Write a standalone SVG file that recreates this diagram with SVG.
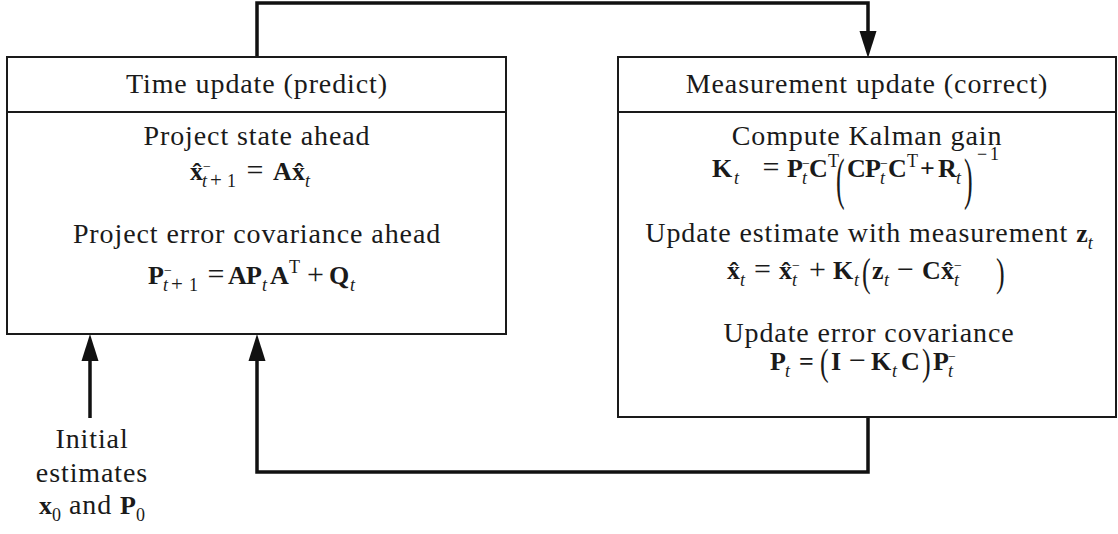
<svg xmlns="http://www.w3.org/2000/svg" width="1118" height="534" viewBox="0 0 1118 534">
<style>
.box{fill:#fff;stroke:#1a1a1a;stroke-width:2}
.div{stroke:#1a1a1a;stroke-width:2}
.tx{font-family:"Liberation Serif","Times New Roman",serif;font-size:28px;letter-spacing:0.9px;fill:#1a1a1a;text-anchor:middle}
.m{font-family:"Liberation Serif","Times New Roman",serif;font-size:26px;font-weight:bold;fill:#1a1a1a}
.sb{font-size:18px;font-style:italic;font-weight:normal}
.sr{font-size:18px;font-weight:normal;font-style:normal}
.sm{font-size:14px;font-weight:normal;font-style:normal}
.sp{font-size:21px;font-weight:normal;font-style:normal}
.op{font-size:30px;font-weight:normal}
.pa{font-family:"Liberation Serif","Times New Roman",serif;font-size:26px;fill:#1a1a1a}
.con{fill:none;stroke:#111;stroke-width:3.5}
</style>
<defs>
<marker id="arr" markerUnits="userSpaceOnUse" viewBox="0 -10 30 20" refX="0" refY="0" markerWidth="30" markerHeight="20" orient="auto">
<path d="M0,-8.5 L27,0 L0,8.5 z" fill="#111"/>
</marker>
</defs>

<g id="connectors">
<path class="con" d="M257,57 V3 H868 V31" marker-end="url(#arr)"/>
<path class="con" d="M868,417 V472 H257 V361" marker-end="url(#arr)"/>
<path class="con" d="M90,418 V361" marker-end="url(#arr)"/>
</g>

<g id="time-update">
<rect class="box" x="7" y="57" width="499" height="277"/>
<line class="div" x1="7" y1="112" x2="506" y2="112"/>
<text class="tx" x="257" y="93">Time update (predict)</text>
<text class="tx" x="257" y="145">Project state ahead</text>
<text class="m">
<tspan x="190" y="180">x&#770;</tspan>
<tspan class="sm" x="203" y="171">−</tspan>
<tspan class="sb" x="202" y="187">t</tspan>
<tspan class="sp" x="210" y="187">+</tspan>
<tspan class="sr" x="227" y="187">1</tspan>
<tspan class="op" x="246.5" y="180">=</tspan>
<tspan x="273" y="180">A</tspan>
<tspan x="292" y="180">x&#770;</tspan>
<tspan class="sb" x="305" y="187">t</tspan>
</text>
<text class="tx" x="257" y="243">Project error covariance ahead</text>
<text class="m">
<tspan x="148" y="284">P</tspan>
<tspan class="sm" x="164" y="275">−</tspan>
<tspan class="sb" x="163" y="291">t</tspan>
<tspan class="sp" x="171" y="291">+</tspan>
<tspan class="sr" x="189" y="291">1</tspan>
<tspan class="op" x="207.5" y="284">=</tspan>
<tspan x="228" y="284">A</tspan>
<tspan x="246" y="284">P</tspan>
<tspan class="sb" x="262" y="291">t</tspan>
<tspan x="270" y="284">A</tspan>
<tspan class="sr" x="289" y="273">T</tspan>
<tspan class="op" x="307" y="284">+</tspan>
<tspan x="329" y="284">Q</tspan>
<tspan class="sb" x="350" y="291">t</tspan>
</text>
</g>

<g id="measurement-update">
<rect class="box" x="618" y="57" width="498" height="360"/>
<line class="div" x1="618" y1="112" x2="1116" y2="112"/>
<text class="tx" x="867" y="93">Measurement update (correct)</text>
<text class="tx" x="867" y="145">Compute Kalman gain</text>
<text class="m">
<tspan x="712" y="177">K</tspan>
<tspan class="sb" x="734" y="184">t</tspan>
<tspan class="op" x="762.5" y="177">=</tspan>
<tspan x="787" y="177">P</tspan>
<tspan class="sm" x="802" y="168">−</tspan>
<tspan class="sb" x="802" y="184">t</tspan>
<tspan x="809" y="177">C</tspan>
<tspan class="sr" x="828" y="167">T</tspan>
<tspan x="847" y="177">C</tspan>
<tspan x="865" y="177">P</tspan>
<tspan class="sm" x="880" y="168">−</tspan>
<tspan class="sb" x="880" y="184">t</tspan>
<tspan x="888" y="177">C</tspan>
<tspan class="sr" x="907" y="167">T</tspan>
<tspan x="920" y="177">+</tspan>
<tspan x="938" y="177">R</tspan>
<tspan class="sb" x="956" y="184">t</tspan>
<tspan class="sr" x="977" y="160">−</tspan>
<tspan class="sr" x="990" y="160">1</tspan>
</text>
<text class="pa" transform="translate(836,198.1) scale(1,2.16)">(</text>
<text class="pa" transform="translate(964,198.1) scale(1,2.16)">)</text>

<text class="tx" x="869" y="242">Update estimate with measurement <tspan class="m" style="letter-spacing:0">z</tspan><tspan class="m sb" dy="7" style="letter-spacing:0">t</tspan></text>
<text class="m">
<tspan x="727" y="279">x&#770;</tspan>
<tspan class="sb" x="740" y="286">t</tspan>
<tspan class="op" x="754" y="279">=</tspan>
<tspan x="779" y="279">x&#770;</tspan>
<tspan class="sm" x="792" y="270">−</tspan>
<tspan class="sb" x="792" y="286">t</tspan>
<tspan class="op" x="809" y="279">+</tspan>
<tspan x="833" y="279">K</tspan>
<tspan class="sb" x="854" y="286">t</tspan>
<tspan x="872" y="279">z</tspan>
<tspan class="sb" x="884" y="286">t</tspan>
<tspan class="op" x="897" y="279">−</tspan>
<tspan x="922" y="279">C</tspan>
<tspan x="941" y="279">x&#770;</tspan>
<tspan class="sm" x="954" y="270">−</tspan>
<tspan class="sb" x="954" y="286">t</tspan>
</text>
<text class="pa" transform="translate(862,285.7) scale(1,1.58)">(</text>
<text class="pa" transform="translate(996,285.7) scale(1,1.58)">)</text>

<text class="tx" x="869" y="342">Update error covariance</text>
<text class="m">
<tspan x="770" y="370">P</tspan>
<tspan class="sb" x="785" y="377">t</tspan>
<tspan x="799" y="370">=</tspan>
<tspan x="831" y="370">I</tspan>
<tspan class="op" x="849" y="370">−</tspan>
<tspan x="871" y="370">K</tspan>
<tspan class="sb" x="892" y="377">t</tspan>
<tspan x="901" y="370">C</tspan>
<tspan x="933" y="370">P</tspan>
<tspan class="sm" x="948" y="361">−</tspan>
<tspan class="sb" x="948" y="377">t</tspan>
</text>
<text class="pa" transform="translate(820,375.4) scale(1,1.44)">(</text>
<text class="pa" transform="translate(922,375.4) scale(1,1.44)">)</text>
</g>

<g id="initial-estimates">
<text class="tx" x="92" y="448">Initial</text>
<text class="tx" x="92" y="482">estimates</text>
<text class="tx" x="92" y="514"><tspan class="m" style="letter-spacing:0">x</tspan><tspan class="m sb" style="font-style:normal;letter-spacing:0" dy="7">0</tspan><tspan dy="-7"> and </tspan><tspan class="m" style="letter-spacing:0">P</tspan><tspan class="m sb" style="font-style:normal;letter-spacing:0" dy="7">0</tspan></text>
</g>
</svg>
